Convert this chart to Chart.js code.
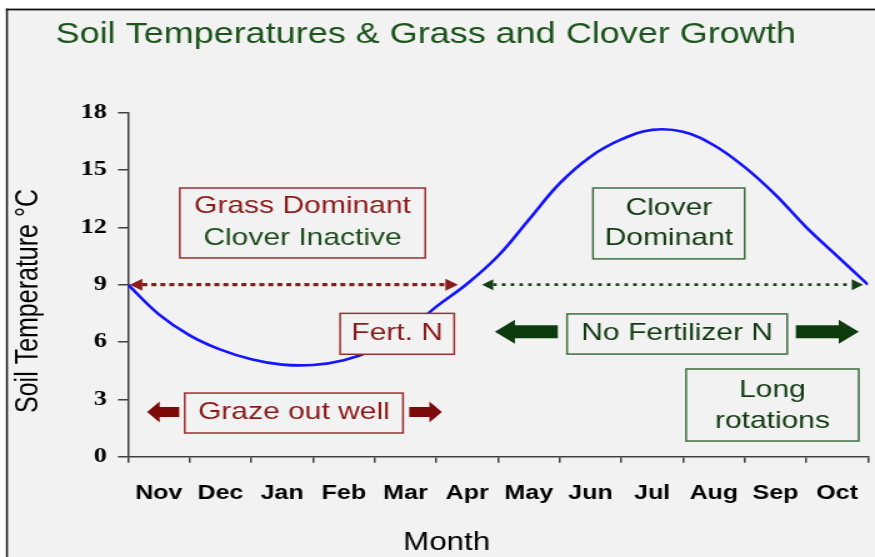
<!DOCTYPE html>
<html>
<head>
<meta charset="utf-8">
<script src="https://cdn.jsdelivr.net/npm/chart.js@4.4.1/dist/chart.umd.min.js"></script>
<style>
html,body{margin:0;padding:0;background:#ffffff;overflow:hidden;}
#c{display:block;}
</style>
</head>
<body>
<canvas id="c" width="700" height="557" style="width:875px;height:557px"></canvas>
<script>
// ---------- data ----------
const monthLabels = ['Nov','Dec','Jan','Feb','Mar','Apr','May','Jun','Jul','Aug','Sep','Oct'];
// position along the year, in months from the start of November
const monthPos = [0,0.5,1,1.5,2,2.5,3,3.5,4,4.5,5,5.5,6,6.5,7,7.5,8,8.5,9,9.5,10,10.5,11,11.5,12];
// soil temperature, °C
const soilTemp = [9.0,7.45,6.35,5.6,5.1,4.82,4.8,5.05,5.6,6.5,7.85,9.05,10.5,12.4,14.3,15.7,16.6,17.1,17.0,16.3,15.15,13.7,12.0,10.5,9.0];
const monthTicks = [0,1,2,3,4,5,6,7,8,9,10,11,12];
const yTickValues = [0,3,6,9,12,15,18];

const chartTitle = 'Soil Temperatures & Grass and Clover Growth';
const xTitle = 'Month';
const yTitle = 'Soil Temperature °C';

// ---------- annotations (in data units: months / °C) ----------
const RED = '#8b1a1a', RED_BORDER = '#9b3030', GREEN = '#1e4d1e', DKGREEN = '#123a12', GREEN_BORDER = '#3d6e3d';
const noteBoxes = [
  { x1:0.84, x2:4.82, y1:14.06, y2:10.40, border:RED_BORDER,
    lines:[{t:'Grass Dominant', y:13.08, c:RED}, {t:'Clover Inactive', y:11.43, c:GREEN}] },
  { x1:3.44, x2:5.29, y1:7.50, y2:5.36, border:RED_BORDER,
    lines:[{t:'Fert. N', y:6.46, c:RED}] },
  { x1:0.92, x2:4.46, y1:3.33, y2:1.24, border:RED_BORDER,
    lines:[{t:'Graze out well', y:2.34, c:RED}] },
  { x1:7.54, x2:10.0, y1:14.06, y2:10.35, border:GREEN_BORDER,
    lines:[{t:'Clover', y:13.01, c:DKGREEN}, {t:'Dominant', y:11.44, c:DKGREEN}] },
  { x1:7.12, x2:10.69, y1:7.47, y2:5.37, border:GREEN_BORDER,
    lines:[{t:'No Fertilizer N', y:6.47, c:DKGREEN}] },
  { x1:9.05, x2:11.85, y1:4.59, y2:0.82, border:GREEN_BORDER,
    lines:[{t:'Long', y:3.49, c:DKGREEN}, {t:'rotations', y:1.83, c:DKGREEN}] }
];
const dottedArrows = [
  { x1:0.03, x2:5.35, y:9, color:'#8b1a1a', width:3.2, dash:[4,3.2], headL:10, headH:12 },
  { x1:5.74, x2:11.92, y:9, color:'#173f17', width:2.8, dash:[2.8,4.2], headL:9, headH:11 }
];
const blockArrows = [
  { tip:0.31, tail:0.83, y:2.34, color:'#7d0a0a', bar:10, headH:21, headL:10 },
  { tip:5.09, tail:4.56, y:2.34, color:'#7d0a0a', bar:10, headH:21, headL:10 },
  { tip:5.95, tail:6.97, y:6.54, color:'#0d3b0d', bar:13, headH:24, headL:16 },
  { tip:11.85, tail:10.83, y:6.54, color:'#0d3b0d', bar:13, headH:24, headL:16 }
];

const SANS = '"Liberation Sans", Arial, Helvetica, sans-serif';
const SERIF = '"Liberation Serif", "Times New Roman", serif';

const overlay = {
  id: 'overlay',
  beforeDraw(chart) {
    const c = chart.ctx, W = chart.width, H = chart.height;
    c.save();
    c.fillStyle = '#ffffff';
    c.fillRect(0, 0, W, H);
    c.fillStyle = '#f2f2f2';
    c.fillRect(5.5, 10, W, H);
    c.fillStyle = '#111111';
    c.fillRect(4.8, 8.6, W, 1.8);
    c.fillRect(4.8, 8.6, 1.5, H);
    c.restore();
  },
  afterDatasetsDraw(chart) {
    const c = chart.ctx, xs = chart.scales.x, ys = chart.scales.y;
    const px = v => xs.getPixelForValue(v), py = v => ys.getPixelForValue(v);
    c.save();
    // dotted double arrows
    dottedArrows.forEach(a => {
      const x1 = px(a.x1), x2 = px(a.x2), y = py(a.y);
      c.strokeStyle = a.color; c.lineWidth = a.width; c.setLineDash(a.dash);
      c.beginPath(); c.moveTo(x1 + a.headL, y); c.lineTo(x2 - a.headL, y); c.stroke();
      c.setLineDash([]);
      c.fillStyle = a.color;
      c.beginPath(); c.moveTo(x1, y); c.lineTo(x1 + a.headL, y - a.headH/2); c.lineTo(x1 + a.headL, y + a.headH/2); c.closePath(); c.fill();
      c.beginPath(); c.moveTo(x2, y); c.lineTo(x2 - a.headL, y - a.headH/2); c.lineTo(x2 - a.headL, y + a.headH/2); c.closePath(); c.fill();
    });
    // block arrows
    blockArrows.forEach(a => {
      const tip = px(a.tip), tail = px(a.tail), y = py(a.y);
      const d = Math.sign(tip - tail), hb = tip - d * a.headL;
      c.fillStyle = a.color;
      c.beginPath();
      c.moveTo(tail, y - a.bar/2); c.lineTo(hb, y - a.bar/2); c.lineTo(hb, y - a.headH/2);
      c.lineTo(tip, y); c.lineTo(hb, y + a.headH/2); c.lineTo(hb, y + a.bar/2); c.lineTo(tail, y + a.bar/2);
      c.closePath(); c.fill();
    });
    // text boxes
    noteBoxes.forEach(b => {
      const x1 = px(b.x1), x2 = px(b.x2), y1 = py(b.y1), y2 = py(b.y2);
      c.fillStyle = '#f2f2f2';
      c.fillRect(x1, y1, x2 - x1, y2 - y1);
      c.strokeStyle = b.border; c.lineWidth = 1.5;
      c.strokeRect(x1, y1, x2 - x1, y2 - y1);
      c.font = '24px ' + SANS; c.textAlign = 'center'; c.textBaseline = 'middle';
      b.lines.forEach(l => { c.fillStyle = l.c; c.fillText(l.t, (x1 + x2) / 2, py(l.y)); });
    });
    c.restore();
  },
  afterDraw(chart) {
    const c = chart.ctx;
    c.save();
    // chart title
    c.fillStyle = '#1c541c';
    c.font = '28.8px ' + SANS; c.textAlign = 'left'; c.textBaseline = 'alphabetic';
    c.fillText(chartTitle, 44.5, 42.7);
    // x axis title
    c.fillStyle = '#000000';
    c.font = '25px ' + SANS; c.textAlign = 'center';
    c.fillText(xTitle, 357.3, 550);
    // y axis title
    c.translate(30, 301); c.rotate(-Math.PI / 2);
    c.fillText(yTitle, 0, 0);
    c.restore();
  }
};

new Chart(document.getElementById('c'), {
  type: 'line',
  data: {
    datasets: [{
      label: 'Soil temperature',
      data: monthPos.map((x, i) => ({ x: x, y: soilTemp[i] })),
      xAxisID: 'x', yAxisID: 'y',
      borderColor: '#1414ff', borderWidth: 2.6,
      pointRadius: 0, fill: false,
      tension: 0.4
    }]
  },
  options: {
    responsive: false, animation: false, devicePixelRatio: 1,
    layout: { padding: { top: 112.7, right: 5.6, bottom: 0, left: 0 } },
    plugins: { legend: { display: false }, title: { display: false }, tooltip: { enabled: false } },
    scales: {
      x: {
        type: 'linear', position: 'bottom', weight: 0, min: 0, max: 12,
        afterBuildTicks: s => { s.ticks = monthTicks.map(v => ({ value: v })); },
        ticks: { display: false },
        grid: { drawOnChartArea: false, drawTicks: true, tickLength: 6, color: '#404040', lineWidth: 1.5 },
        border: { display: true, color: '#404040', width: 1.5 },
        afterFit: s => { s.paddingLeft = 0; s.paddingRight = 0; }
      },
      x2: {
        type: 'category', position: 'bottom', weight: 1, labels: monthLabels, offset: true,
        grid: { display: false, drawTicks: false }, border: { display: false },
        ticks: { color: '#000000', font: { family: SANS, size: 20, weight: 'bold' }, padding: 19, maxRotation: 0, autoSkip: false },
        afterFit: s => { s.height = 557 - 112.7 - 344 - 6; s.paddingLeft = 0; s.paddingRight = 0; }
      },
      y: {
        type: 'linear', position: 'left', min: 0, max: 18,
        afterBuildTicks: s => { s.ticks = yTickValues.map(v => ({ value: v })); },
        ticks: { color: '#000000', font: { family: SERIF, size: 21, weight: 'bold' }, padding: 9 },
        grid: { drawOnChartArea: false, drawTicks: true, tickLength: 8, color: '#404040', lineWidth: 1.5 },
        border: { display: true, color: '#404040', width: 1.5 },
        afterFit: s => { s.width = 102.4; }
      }
    }
  },
  plugins: [overlay]
});
</script>
</body>
</html>
